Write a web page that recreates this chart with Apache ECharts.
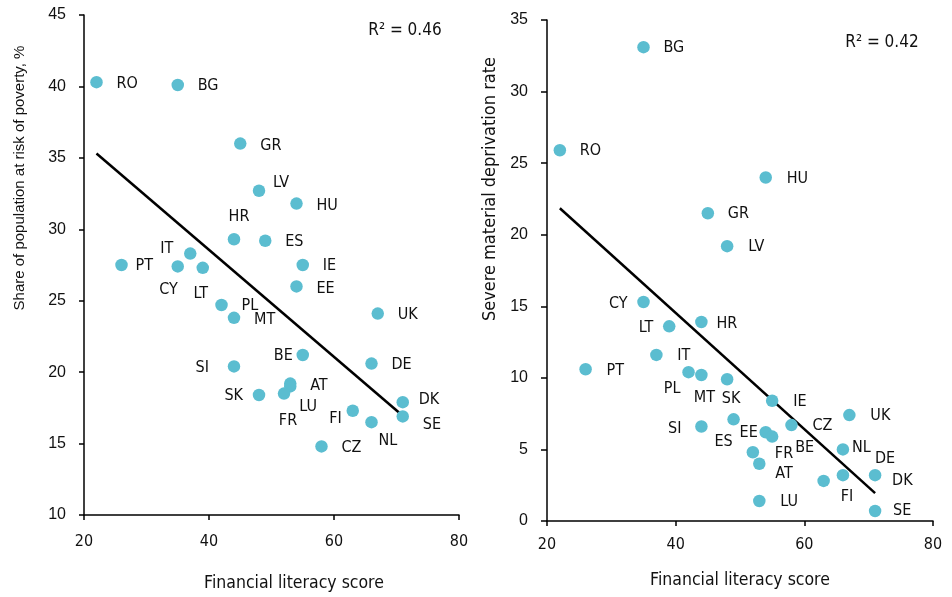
<!DOCTYPE html>
<html>
<head>
<meta charset="utf-8">
<script src="https://cdn.jsdelivr.net/npm/echarts@6/dist/echarts.min.js"></script>
<style>
html,body{margin:0;padding:0;background:#fff;}
#main{width:952px;height:597px;}
</style>
</head>
<body>
<div id="main"></div>
<script>
// ---- data ----
const countries = ['RO','BG','GR','LV','HU','HR','ES','IT','PT','CY','LT','IE','EE','PL','MT','UK','BE','SI','DE','AT','LU','FR','SK','FI','NL','DK','SE','CZ'];
const literacyScore = [22,35,45,48,54,44,49,37,26,35,39,55,54,42,44,67,55,44,66,53,53,52,48,63,66,71,71,58];
const povertyRisk   = [40.3,40.1,36.0,32.7,31.8,29.3,29.2,28.3,27.5,27.4,27.3,27.5,26.0,24.7,23.8,24.1,21.2,20.4,20.6,19.2,19.0,18.5,18.4,17.3,16.5,17.9,16.9,14.8];
const deprivation   = [25.9,33.1,21.5,19.2,24.0,13.9,7.1,11.6,10.6,15.3,13.6,8.4,6.2,10.4,10.2,7.4,5.9,6.6,3.2,4.0,1.4,4.8,9.9,2.8,5.0,3.2,0.7,6.7];
const trendLeftX = [22, 71];
const trendLeftY = [35.3, 16.95];
const trendRightX = [22, 71];
const trendRightY = [21.85, 1.95];
const xTicks = [20, 40, 60, 80];
const r2Left = 'R² = 0.46';
const r2Right = 'R² = 0.42';

// ---- label placement (style only) ----
const labLeft = {RO:[20,2,'left'],BG:[20,1,'left'],GR:[20,2,'left'],LV:[14,-8,'left'],HU:[20,2,'left'],HR:[5,-22,'center'],ES:[20,1,'left'],IT:[-17,-5,'right'],PT:[14,1,'left'],CY:[0,23,'right'],LT:[-2,26,'center'],IE:[20,1,'left'],EE:[20,2,'left'],PL:[20,1,'left'],MT:[20,2,'left'],UK:[20,1,'left'],BE:[-10,1,'right'],SI:[-25,1,'right'],DE:[20,1,'left'],AT:[20,2,'left'],LU:[9,20,'left'],FR:[4,27,'center'],SK:[-16,1,'right'],FI:[-11,8,'right'],NL:[7,19,'left'],DK:[16,-2,'left'],SE:[20,8,'left'],CZ:[20,1,'left']};
const labRight = {BG:[20,1,'left'],RO:[20,1,'left'],HU:[21,1,'left'],GR:[20,1,'left'],LV:[21,1,'left'],CY:[-16,2,'right'],HR:[15,2,'left'],LT:[-16,2,'right'],IT:[21,1,'left'],PT:[21,2,'left'],PL:[-8,17,'right'],MT:[3,23,'center'],SK:[4,20,'center'],IE:[21,1,'left'],UK:[21,1,'left'],SI:[-20,2,'right'],ES:[-10,22,'center'],EE:[-8,1,'right'],BE:[23,11,'left'],CZ:[21,1,'left'],FR:[22,2,'left'],AT:[16,10,'left'],LU:[21,1,'left'],FI:[17,16,'left'],NL:[9,-2,'left'],DE:[32,-16,'left'],DK:[17,6,'left'],SE:[18,0,'left']};

const DIN = '"DejaVu Sans Condensed", "DejaVu Sans", Roboto, sans-serif';
const CAL = '"Liberation Sans", Lato, sans-serif';
const DOT = '#5bbdd0';

function pts(yArr, lab) {
  return countries.map((c, i) => ({
    value: [literacyScore[i], yArr[i]],
    name: c,
    label: { align: lab[c][2], offset: [lab[c][0], lab[c][1]] }
  }));
}
function line(xs, ys) { return xs.map((x, i) => [x, ys[i]]); }

const chart = echarts.init(document.getElementById('main'));
const axisLine = { show: true, lineStyle: { color: '#000', width: 1.5 } };
const axisTick = { show: true, length: 5, lineStyle: { color: '#000', width: 1.5 } };

chart.setOption({
  animation: false,
  grid: [
    { left: 84, right: 493, top: 15, bottom: 82 },
    { left: 547, right: 19, top: 20, bottom: 76 }
  ],
  xAxis: [
    { type: 'value', gridIndex: 0, min: xTicks[0], max: xTicks[xTicks.length - 1], interval: 20,
      axisLine, axisTick, splitLine: { show: false },
      axisLabel: { color: '#111', fontFamily: DIN, fontSize: 16, margin: 19 } },
    { type: 'value', gridIndex: 1, min: xTicks[0], max: xTicks[xTicks.length - 1], interval: 20,
      axisLine, axisTick, splitLine: { show: false },
      axisLabel: { color: '#111', fontFamily: DIN, fontSize: 16, margin: 16 } }
  ],
  yAxis: [
    { type: 'value', gridIndex: 0, min: 10, max: 45, interval: 5, axisLine, axisTick, splitLine: { show: false },
      axisLabel: { color: '#111', fontFamily: CAL, fontSize: 16, margin: 18 } },
    { type: 'value', gridIndex: 1, min: 0, max: 35, interval: 5, axisLine, axisTick: { show: true, length: 6, lineStyle: { color: '#000', width: 1.5 } }, splitLine: { show: false },
      axisLabel: { color: '#111', fontFamily: CAL, fontSize: 16, margin: 19 } }
  ],
  series: [
    { type: 'line', xAxisIndex: 0, yAxisIndex: 0, data: line(trendLeftX, trendLeftY), symbol: 'none',
      lineStyle: { color: '#000', width: 2.5 }, z: 3 },
    { type: 'line', xAxisIndex: 1, yAxisIndex: 1, data: line(trendRightX, trendRightY), symbol: 'none',
      lineStyle: { color: '#000', width: 2.5 }, z: 3 },
    { type: 'scatter', xAxisIndex: 0, yAxisIndex: 0, data: pts(povertyRisk, labLeft), symbolSize: 12.5,
      itemStyle: { color: DOT, opacity: 1 }, z: 4,
      label: { show: true, position: 'inside', formatter: '{b}', color: '#111', fontFamily: DIN, fontSize: 16, verticalAlign: 'middle' } },
    { type: 'scatter', xAxisIndex: 1, yAxisIndex: 1, data: pts(deprivation, labRight), symbolSize: 12.5,
      itemStyle: { color: DOT, opacity: 1 }, z: 4,
      label: { show: true, position: 'inside', formatter: '{b}', color: '#111', fontFamily: DIN, fontSize: 16, verticalAlign: 'middle' } }
  ],
  graphic: [
    { type: 'text', x: 20, y: 178, rotation: Math.PI / 2,
      style: { text: 'Share of population at risk of poverty, %', font: '15px ' + CAL, fill: '#111', textAlign: 'center', textVerticalAlign: 'middle' } },
    { type: 'text', x: 490, y: 189, rotation: Math.PI / 2,
      style: { text: 'Severe material deprivation rate', font: '18px ' + DIN, fill: '#111', textAlign: 'center', textVerticalAlign: 'middle' } },
    { type: 'text', x: 294, y: 583,
      style: { text: 'Financial literacy score', font: '17.5px ' + DIN, fill: '#111', textAlign: 'center', textVerticalAlign: 'middle' } },
    { type: 'text', x: 740, y: 580,
      style: { text: 'Financial literacy score', font: '17.5px ' + DIN, fill: '#111', textAlign: 'center', textVerticalAlign: 'middle' } },
    { type: 'text', x: 405, y: 31,
      style: { text: r2Left, font: '17px ' + DIN, fill: '#111', textAlign: 'center', textVerticalAlign: 'middle' } },
    { type: 'text', x: 882, y: 43,
      style: { text: r2Right, font: '17px ' + DIN, fill: '#111', textAlign: 'center', textVerticalAlign: 'middle' } }
  ]
});
</script>
</body>
</html>
